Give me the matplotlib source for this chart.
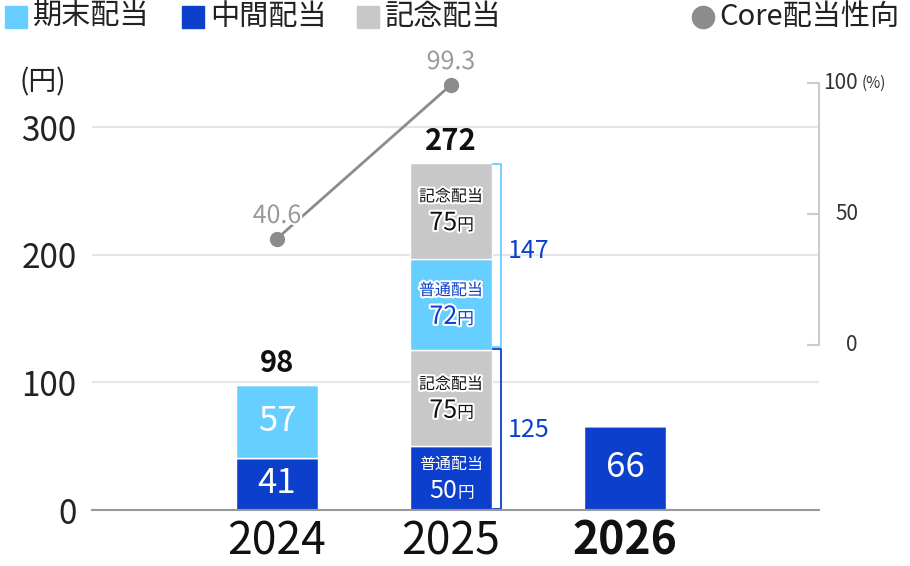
import matplotlib
matplotlib.use('Agg')
import matplotlib.pyplot as plt
import matplotlib.patheffects as pe
from matplotlib.patches import Rectangle
import numpy as np

plt.rcParams['font.family'] = ['Noto Sans CJK JP', 'DejaVu Sans']

#####################
# data
years = ['2024', '2025', '2026']
interim_ord = [41, 50, 66]     # 中間配当 (普通)
interim_comm = [0, 75, 0]      # 中間 記念配当
final_ord = [57, 72, 0]        # 期末配当 (普通)
final_comm = [0, 75, 0]        # 期末 記念配当
payout_years = ['2024', '2025']
payout = [40.6, 99.3]          # Core配当性向 (%)

LIGHT = '#66CFFF'
DARK = '#0B3FCC'
GREY = '#C8C8C8'
LINEC = '#8C8C8C'

x = np.arange(len(years))
b1 = np.array(interim_ord)
b2 = b1 + np.array(interim_comm)
b3 = b2 + np.array(final_ord)
total = b3 + np.array(final_comm)

fig = plt.figure(figsize=(9.1, 5.66), dpi=100)
ax = fig.add_axes([92/910, 1-510/566, (819-92)/910, (510-83)/566])
ax.set_xlim(-1.063, 3.115)
ax.set_ylim(0, 334.5)

w = 0.47
ax.bar(x, interim_ord, w, color=DARK, edgecolor='white', linewidth=1, zorder=2)
ax.bar(x, interim_comm, w, bottom=b1, color=GREY, edgecolor='white', linewidth=1, zorder=2)
ax.bar(x, final_ord, w, bottom=b2, color=LIGHT, edgecolor='white', linewidth=1, zorder=2)
ax.bar(x, final_comm, w, bottom=b3, color=GREY, edgecolor='white', linewidth=1, zorder=2)

ax.set_yticks([0, 100, 200, 300])
ax.yaxis.grid(True, color='#E6E6E6', linewidth=1.5, zorder=0)
ax.set_axisbelow(True)
ax.tick_params(axis='y', length=0, labelsize=24, labelcolor='#222222', pad=11)
ax.set_xticks(x, years)
ax.tick_params(axis='x', length=0, labelsize=32, labelcolor='#111111', pad=6)
ax.get_xticklabels()[2].set_fontweight('bold')
for s in ['left', 'top', 'right']:
    ax.spines[s].set_visible(False)
ax.spines['bottom'].set_color('#999999')
ax.spines['bottom'].set_linewidth(1.5)
fig.text(20/910, 1-82/566, '(円)', fontsize=20, color='#222222', ha='left', va='center')

outline = [pe.withStroke(linewidth=3, foreground='white')]

# 2024 / 2026 plain labels
for i in [0, 2]:
    if interim_ord[i]:
        ax.text(x[i], interim_ord[i]/2, str(interim_ord[i]), color='white', fontsize=25,
                ha='center', va='center', zorder=3)
    if final_ord[i]:
        ax.text(x[i], b2[i] + final_ord[i]/2, str(final_ord[i]), color='white', fontsize=25,
                ha='center', va='center', zorder=3)

# 2025 two-line labels
def seg_label(xi, yc, title, val, color, effects):
    ax.annotate(title, (xi, yc), xytext=(0, 10), textcoords='offset points',
                ha='center', va='center', fontsize=11.5, color=color,
                path_effects=effects, zorder=4)
    ax.annotate(str(val), (xi, yc), xytext=(4.5, -14), textcoords='offset points',
                ha='right', va='baseline', fontsize=18, color=color,
                path_effects=effects, zorder=4)
    ax.annotate('円', (xi, yc), xytext=(4.5, -14), textcoords='offset points',
                ha='left', va='baseline', fontsize=12, color=color,
                path_effects=effects, zorder=4)

i = 1
seg_label(x[i], interim_ord[i]/2, '普通配当', interim_ord[i], 'white', None)
seg_label(x[i], b1[i] + interim_comm[i]/2, '記念配当', interim_comm[i], '#111111', outline)
seg_label(x[i], b2[i] + final_ord[i]/2, '普通配当', final_ord[i], DARK, outline)
seg_label(x[i], b3[i] + final_comm[i]/2, '記念配当', final_comm[i], '#111111', outline)

# totals
for i in [0, 1]:
    ax.annotate(str(total[i]), (x[i], total[i]), xytext=(0, 5), textcoords='offset points',
                ha='center', va='bottom', fontsize=21, fontweight='bold', color='#111111')

# brackets for 2025
i = 1
bx = x[i] + 0.288
tx = x[i] + w/2 + 0.005
ax.plot([tx, bx, bx, tx], [b2[i] + 3, b2[i] + 3, total[i] - 1, total[i] - 1],
        color=LIGHT, linewidth=1.3, zorder=2)
ax.plot([tx, bx, bx, tx], [0.8, 0.8, b2[i] + 1.5, b2[i] + 1.5],
        color=DARK, linewidth=1.3, zorder=2)
ax.annotate(str(total[i] - b2[i]), (bx, (b2[i] + total[i])/2), xytext=(5, 4),
            textcoords='offset points', color=DARK, fontsize=18, ha='left', va='center')
ax.annotate(str(b2[i]), (bx, b2[i]/2), xytext=(5, 0),
            textcoords='offset points', color=DARK, fontsize=18, ha='left', va='center')

# payout ratio on right axis
ax2 = ax.twinx()
ax2.set_ylim(-62.9, 100)
px = [years.index(y) for y in payout_years]
ax2.plot(px, payout, color=LINEC, linewidth=2, marker='o', markersize=10, zorder=3,
         clip_on=False)
for xi, v in zip(px, payout):
    ax2.annotate(f'{v:.1f}', (xi, v), xytext=(0, 7), textcoords='offset points',
                 ha='center', va='bottom', fontsize=18, color='#999999',
                 path_effects=outline)
for s in ['left', 'top', 'bottom']:
    ax2.spines[s].set_visible(False)
ax2.spines['right'].set_bounds(0, 100)
ax2.spines['right'].set_color('#CCCCCC')
ax2.spines['right'].set_linewidth(1.5)
ax2.set_yticks([0, 50, 100], ['', '', ''])
ax2.tick_params(axis='y', direction='in', length=9, width=1.5, color='#CCCCCC')
ytr = ax2.get_yaxis_transform()
ax2.text(1.045, 0, '0', transform=ytr, ha='center', va='center', fontsize=15, color='#333333')
ax2.text(1.039, 50, '50', transform=ytr, ha='center', va='center', fontsize=15, color='#333333')
ax2.text(1.006, 100, '100', transform=ytr, ha='left', va='center', fontsize=15, color='#333333')
ax2.text(1.058, 100, '(%)', transform=ytr, ha='left', va='center', fontsize=11, color='#333333')

# legend (manual)
def sq(px0, color, label):
    fig.add_artist(Rectangle((px0/910, 1-28/566), 22/910, 22/566,
                             transform=fig.transFigure, color=color))
    fig.text((px0+28)/910, 1-17/566, label, fontsize=21, color='#222222',
             ha='left', va='center')

sq(5, LIGHT, '期末配当')
sq(182, DARK, '中間配当')
sq(357, GREY, '記念配当')
ax.plot([703/910], [1-17/566], 'o', color=LINEC, markersize=16,
        transform=fig.transFigure, clip_on=False)
fig.text(719/910, 1-17/566, 'Core配当性向', fontsize=21, color='#222222',
         ha='left', va='center')

plt.savefig('out.png', dpi=100)
